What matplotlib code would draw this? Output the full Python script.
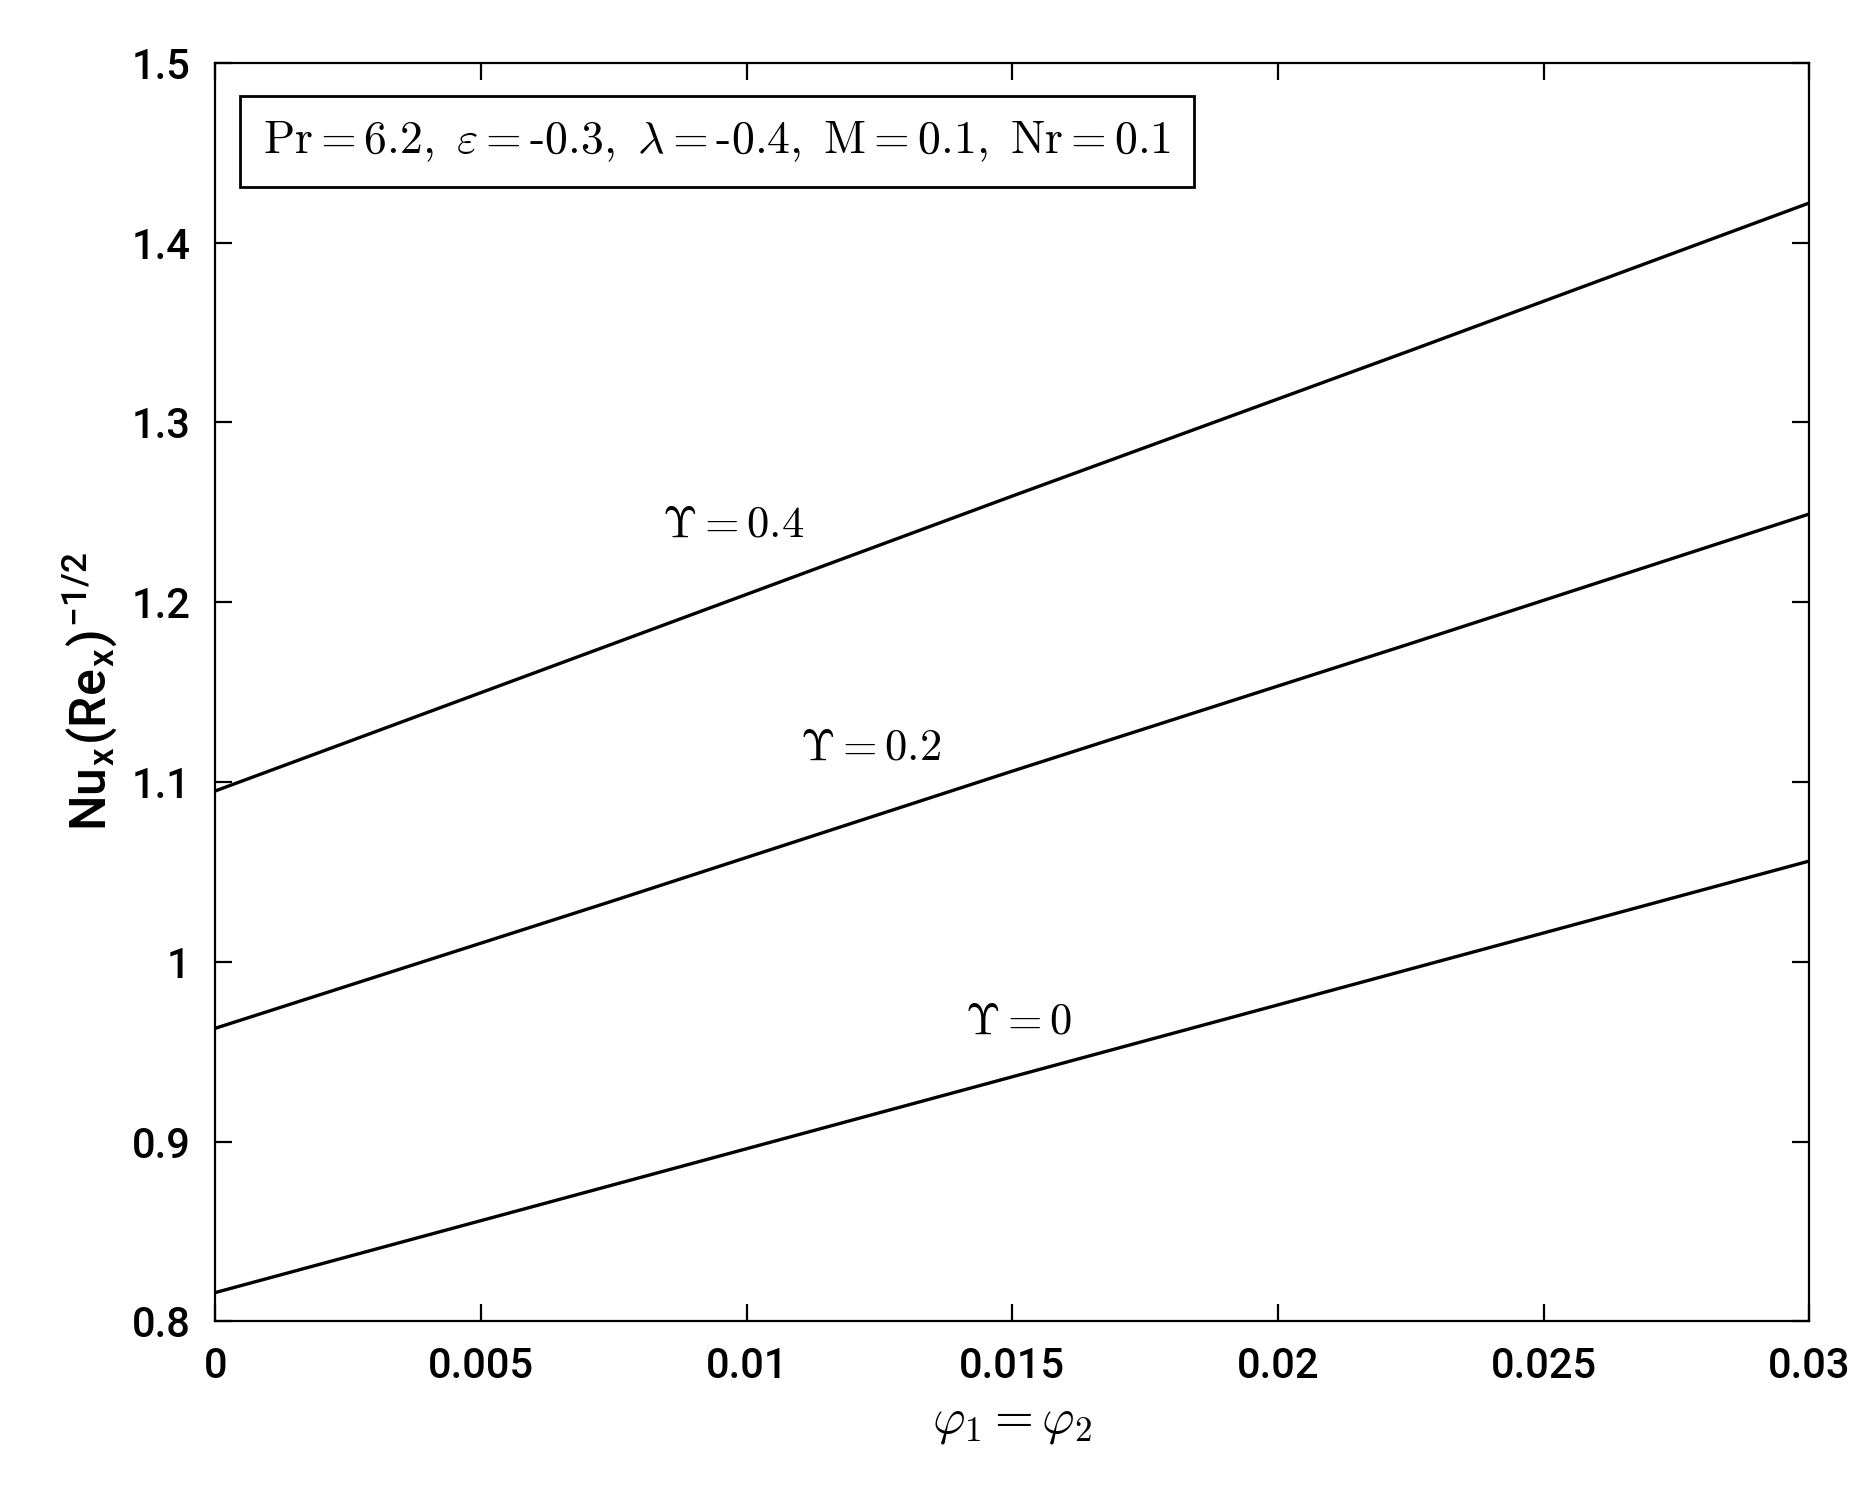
import matplotlib
matplotlib.use("Agg")
import matplotlib.pyplot as plt

plt.rcParams['mathtext.fontset'] = 'cm'
plt.rcParams['font.family'] = ['Roboto', 'DejaVu Sans']

# data
phi = [0.0, 0.0075, 0.015, 0.0225, 0.03]
nu_0 = [0.816, 0.876, 0.936, 0.996, 1.056]
nu_02 = [0.963, 1.034, 1.106, 1.177, 1.249]
nu_04 = [1.095, 1.177, 1.259, 1.340, 1.422]
curves = [nu_0, nu_02, nu_04]
curve_vals = ['0', '0.2', '0.4']
label_pos = [(0.0141, 0.967), (0.0110, 1.119), (0.0084, 1.243)]

fig = plt.figure(figsize=(1873 / 200, 1493 / 200), dpi=200)
ax = fig.add_axes([0.115, 0.115, 0.851, 0.843])

for y in curves:
    ax.plot(phi, y, color='black', linewidth=1.2)

for val, (x, y) in zip(curve_vals, label_pos):
    ax.text(x, y, r'$\Upsilon = \mathrm{' + val + '}$',
            fontsize=16, va='center', ha='left')

ax.text(0.03, 0.955,
        r'$\mathrm{Pr} = \mathrm{6.2,}\ \varepsilon = \mathrm{\text{-}0.3,}\ \lambda =\mathrm{\text{-}0.4,}\ \mathrm{M} = \mathrm{0.1,}\ \mathrm{Nr} = \mathrm{0.1}$',
        transform=ax.transAxes, fontsize=16.5, va='top', ha='left',
        bbox=dict(boxstyle='square,pad=0.5', facecolor='white', edgecolor='black', linewidth=1.0))

ax.set_xlim(0, 0.03)
ax.set_ylim(0.8, 1.5)
ax.set_xticks([0, 0.005, 0.01, 0.015, 0.02, 0.025, 0.03])
ax.set_xticklabels(['0', '0.005', '0.01', '0.015', '0.02', '0.025', '0.03'])
ax.set_yticks([0.8, 0.9, 1.0, 1.1, 1.2, 1.3, 1.4, 1.5])
ax.set_yticklabels(['0.8', '0.9', '1', '1.1', '1.2', '1.3', '1.4', '1.5'])
ax.tick_params(direction='in', top=True, right=True, labelsize=15, length=6, pad=9)
for t in ax.get_xticklabels() + ax.get_yticklabels():
    t.set_fontweight('medium')
ax.set_xlabel(r'$\varphi_1 = \varphi_2$', fontsize=18)
ax.set_ylabel(r'Nu$_\mathregular{x}$(Re$_\mathregular{x}$)$^\mathregular{-1/2}$', fontsize=18,
              fontweight='medium')

fig.savefig('out.png', dpi=200, facecolor='white')
